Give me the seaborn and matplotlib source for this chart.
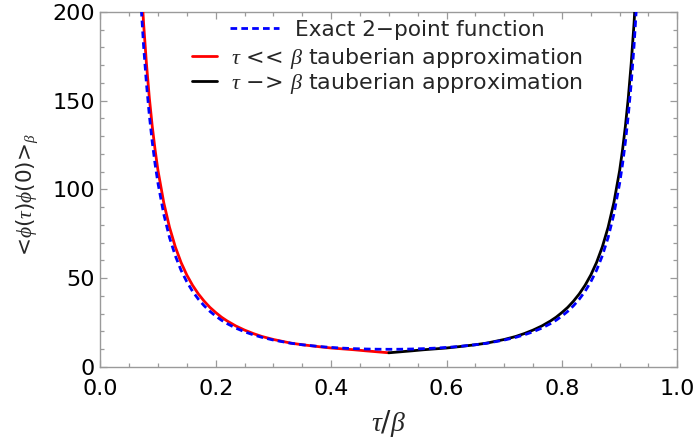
import matplotlib
matplotlib.use("Agg")
import matplotlib.pyplot as plt
import seaborn as sns
import pandas as pd
from matplotlib.ticker import MultipleLocator

# ---- data ----
exact_x = [0.065, 0.07, 0.075, 0.08, 0.085, 0.09, 0.095, 0.10, 0.11, 0.12, 0.13, 0.14,
           0.15, 0.16, 0.17, 0.18, 0.19, 0.20, 0.21, 0.22, 0.235, 0.25, 0.265, 0.28,
           0.30, 0.33, 0.35, 0.38, 0.40, 0.42, 0.44, 0.46, 0.48, 0.50,
           0.52, 0.54, 0.56, 0.58, 0.60, 0.62, 0.65, 0.67, 0.70, 0.72, 0.735, 0.75,
           0.765, 0.78, 0.79, 0.80, 0.81, 0.82, 0.83, 0.84, 0.85, 0.86, 0.87, 0.88,
           0.89, 0.90, 0.905, 0.91, 0.915, 0.92, 0.925, 0.93, 0.935]
exact_y = [240.0, 207.4, 181.1, 159.6, 141.7, 126.8, 114.2, 103.4, 86.0, 72.8, 62.6, 54.4,
           47.9, 42.5, 38.09, 34.4, 31.24, 28.6, 26.27, 24.3, 21.79, 19.74, 18.04, 16.62,
           15.08, 13.30, 12.43, 11.42, 10.91, 10.52, 10.23, 10.03, 9.91, 9.87,
           9.91, 10.03, 10.23, 10.52, 10.91, 11.42, 12.43, 13.30, 15.08, 16.62, 18.04, 19.74,
           21.79, 24.3, 26.27, 28.6, 31.24, 34.4, 38.09, 42.5, 47.9, 54.4, 62.6, 72.8,
           86.0, 103.4, 114.2, 126.8, 141.7, 159.6, 181.1, 207.4, 240.0]

small_x = [0.065, 0.07, 0.075, 0.08, 0.085, 0.09, 0.095, 0.10, 0.11, 0.12, 0.13, 0.14,
           0.15, 0.16, 0.17, 0.18, 0.19, 0.20, 0.21, 0.22, 0.235, 0.25, 0.265, 0.28,
           0.30, 0.33, 0.35, 0.38, 0.40, 0.42, 0.44, 0.46, 0.48, 0.50]
small_y = [256.8, 221.9, 193.8, 170.8, 151.6, 135.7, 122.2, 110.6, 92.5, 78.6, 67.6, 58.8,
           51.7, 45.9, 41.06, 37.0, 33.49, 30.6, 27.98, 25.8, 22.99, 20.7, 18.76, 17.1,
           15.4, 13.37, 12.43, 11.3, 10.6, 10.1, 9.6, 9.0, 8.45, 7.9]

large_x = [0.50, 0.52, 0.54, 0.56, 0.58, 0.60, 0.62, 0.65, 0.67, 0.70, 0.72, 0.735,
           0.75, 0.765, 0.78, 0.79, 0.80, 0.81, 0.82, 0.83, 0.84, 0.85, 0.86, 0.87,
           0.88, 0.89, 0.90, 0.905, 0.91, 0.915, 0.92, 0.925, 0.93, 0.935]
large_y = [7.9, 8.45, 9.0, 9.6, 10.1, 10.6, 11.3, 12.43, 13.37, 15.4, 17.1, 18.76,
           20.7, 22.99, 25.8, 27.98, 30.6, 33.49, 37.0, 41.06, 45.9, 51.7, 58.8, 67.6,
           78.6, 92.5, 110.6, 122.2, 135.7, 151.6, 170.8, 193.8, 221.9, 256.8]

series_labels = ["Exact 2\u2212point function",
                 r"$\tau$ << $\beta$ tauberian approximation",
                 "$\\tau$ \u2212> $\\beta$ tauberian approximation"]

sns.set_theme(style="ticks")
plt.rcParams['font.family'] = ['DejaVu Sans']
plt.rcParams['mathtext.fontset'] = 'custom'
plt.rcParams['mathtext.it'] = 'Liberation Serif:italic'
plt.rcParams['mathtext.rm'] = 'DejaVu Sans'
plt.rcParams['mathtext.fallback'] = 'stix'

W, H = 694, 443
fig = plt.figure(figsize=(W / 100, H / 100), dpi=100)
ax = fig.add_axes([0.1445, 0.172, 0.8315, 0.801])

df_exact = pd.DataFrame({"x": exact_x, "y": exact_y})
df_small = pd.DataFrame({"x": small_x, "y": small_y})
df_large = pd.DataFrame({"x": large_x, "y": large_y})

sns.lineplot(data=df_exact, x="x", y="y", ax=ax, color=(0, 0, 1), linewidth=2.0,
             label=series_labels[0], zorder=4, sort=False)
ax.lines[-1].set_linestyle((0, (2.4, 1.5)))
sns.lineplot(data=df_small, x="x", y="y", ax=ax, color=(1, 0, 0), linewidth=2.0,
             label=series_labels[1], zorder=3, sort=False)
sns.lineplot(data=df_large, x="x", y="y", ax=ax, color="black", linewidth=2.0,
             label=series_labels[2], zorder=3, sort=False)
if ax.get_legend() is not None:
    ax.get_legend().remove()
h_exact, h_small, h_large = ax.lines[0], ax.lines[1], ax.lines[2]

ax.set_xlim(0, 1)
ax.set_ylim(0, 200)
ax.xaxis.set_major_locator(MultipleLocator(0.2))
ax.xaxis.set_minor_locator(MultipleLocator(0.05))
ax.yaxis.set_major_locator(MultipleLocator(50))
ax.yaxis.set_minor_locator(MultipleLocator(10))

gray = '#9a9a9a'
for s in ax.spines.values():
    s.set_visible(True)
    s.set_color(gray)
    s.set_linewidth(1.0)
ax.tick_params(which='both', direction='in', top=True, right=True, color=gray,
               width=0.9, labelcolor='black')
ax.tick_params(which='major', length=5, labelsize=16)
ax.tick_params(axis='x', which='major', pad=9)
ax.tick_params(axis='y', which='major', pad=4)
ax.tick_params(which='minor', length=2.8)

ax.set_xlabel(r"$\tau/\beta$", fontsize=20, labelpad=6)
ax.set_ylabel("<$\\phi$($\\tau$)$\\phi$(0)>$_\\beta$", fontsize=15.5)
ax.yaxis.set_label_coords(-0.105, 0.484)

leg_fs = 15.6
fs_px = leg_fs * 100 / 72
leg1 = ax.legend(handles=[h_exact], labels=[series_labels[0]], loc='center left',
                 bbox_to_anchor=(230 / W, 1 - 30 / H), bbox_transform=fig.transFigure,
                 frameon=False, fontsize=leg_fs, handlelength=49 / fs_px,
                 handletextpad=16 / fs_px, borderpad=0, borderaxespad=0)
ax.add_artist(leg1)
ax.legend(handles=[h_small, h_large], labels=series_labels[1:], loc='center left',
          bbox_to_anchor=(192 / W, 1 - 70.8 / H), bbox_transform=fig.transFigure,
          frameon=False, fontsize=15.9, handlelength=25 / fs_px,
          handletextpad=13 / fs_px, labelspacing=0.0, borderpad=0, borderaxespad=0)

fig.savefig("out.png", dpi=100)
